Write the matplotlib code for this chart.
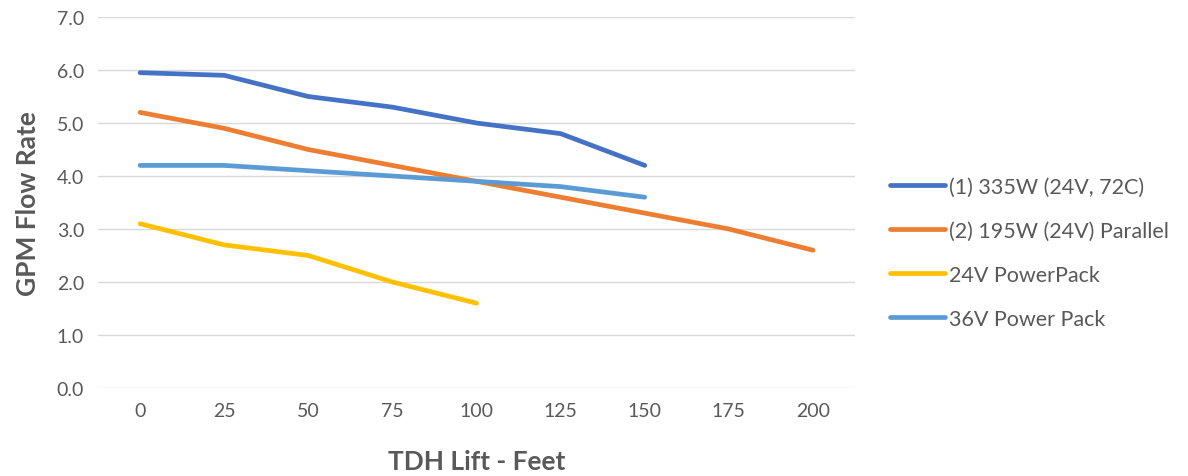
import matplotlib
matplotlib.use("Agg")
import matplotlib.pyplot as plt

plt.rcParams['font.family'] = ['Lato', 'DejaVu Sans']

# 数据
lift = [0, 25, 50, 75, 100, 125, 150, 175, 200]
pump_335w = [5.95, 5.9, 5.5, 5.3, 5.0, 4.8, 4.2]
pump_195w = [5.2, 4.9, 4.5, 4.2, 3.9, 3.6, 3.3, 3.0, 2.6]
pack_24v = [3.1, 2.7, 2.5, 2.0, 1.6]
pack_36v = [4.2, 4.2, 4.1, 4.0, 3.9, 3.8, 3.6]

series = [
    ("(1) 335W (24V, 72C)", pump_335w, "#4472C4"),
    ("(2) 195W (24V) Parallel", pump_195w, "#ED7D31"),
    ("24V PowerPack", pack_24v, "#FFC000"),
    ("36V Power Pack", pack_36v, "#5B9BD5"),
]

fig = plt.figure(figsize=(11.88, 4.77), dpi=100)
ax = fig.add_axes([0.0825, 0.1845, 0.6372, 0.7777])

for name, vals, color in series:
    xs = list(range(len(vals)))
    ax.plot(xs, vals, color=color, lw=3.4, label=name,
            solid_capstyle='round', solid_joinstyle='round')

grey = "#595959"
ax.set_xlim(-0.5, len(lift) - 0.5)
ax.set_ylim(0, 7)
ax.set_xticks(range(len(lift)))
ax.set_xticklabels([str(v) for v in lift])
ax.set_yticks([i for i in range(8)])
ax.set_yticklabels([f"{i:.1f}" for i in range(8)])
ax.tick_params(length=0, labelsize=14, colors=grey, pad=10)
ax.grid(axis='y', color="#D9D9D9", lw=1)
ax.set_axisbelow(True)
for s in ax.spines.values():
    s.set_visible(False)

ax.set_xlabel("TDH Lift - Feet", fontsize=19, fontweight='bold', color=grey, labelpad=22)
ax.set_ylabel("GPM Flow Rate", fontsize=19, fontweight='bold', color=grey, labelpad=12)

leg = ax.legend(loc='center left', bbox_to_anchor=(1.02, 0.365), frameon=False,
                fontsize=15.5, handlelength=2.6, labelspacing=1.12, handletextpad=0.15)
for t in leg.get_texts():
    t.set_color(grey)

fig.savefig("out.png", dpi=100)
